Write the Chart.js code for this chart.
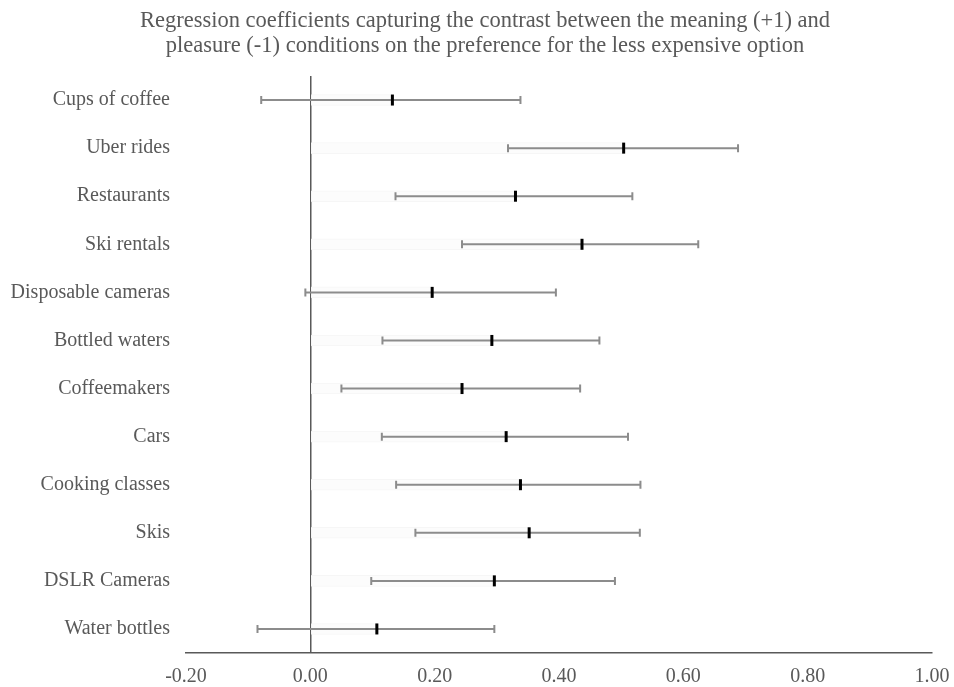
<!DOCTYPE html>
<html>
<head>
<meta charset="utf-8">
<style>
    html, body { margin: 0; padding: 0; background: #fff; }
    #wrap { width: 954px; height: 687px; position: relative; }
</style>
<script src="https://cdn.jsdelivr.net/npm/chart.js@4.4.1/dist/chart.umd.min.js"></script>
</head>
<body>
<div id="wrap"><canvas id="coefChart" width="954" height="687"></canvas></div>
<script>
// Data
const categories = ['Cups of coffee', 'Uber rides', 'Restaurants', 'Ski rentals', 'Disposable cameras',
    'Bottled waters', 'Coffeemakers', 'Cars', 'Cooking classes', 'Skis', 'DSLR Cameras', 'Water bottles'];
const estimates = [0.132, 0.504, 0.330, 0.437, 0.196, 0.292, 0.244, 0.315, 0.338, 0.352, 0.296, 0.107];
const lowerCI  = [-0.079, 0.318, 0.137, 0.244, -0.008, 0.116, 0.050, 0.115, 0.138, 0.169, 0.098, -0.085];
const upperCI  = [0.338, 0.688, 0.518, 0.624, 0.395, 0.465, 0.434, 0.511, 0.531, 0.530, 0.490, 0.296];
const xTicks = [-0.2, 0, 0.2, 0.4, 0.6, 0.8, 1.0];
const titleLines = ['Regression coefficients capturing the contrast between the meaning (+1) and',
    'pleasure (-1) conditions on the preference for the less expensive option'];

const TEXT = '#595959';
const SERIF = "'Liberation Serif', 'Times New Roman', serif";

// Title drawn by hand so it centres where the original does
const titlePlugin = {
    id: 'titleText',
    afterDraw(chart) {
        const ctx = chart.ctx;
        ctx.save();
        ctx.fillStyle = TEXT;
        ctx.font = `22.5px ${SERIF}`;
        ctx.textAlign = 'center';
        ctx.textBaseline = 'middle';
        titleLines.forEach((line, i) => ctx.fillText(line, 485, 21 + i * 25));
        ctx.restore();
    }
};

// Whiskers with caps, and the black tick at the estimate
const whiskerPlugin = {
    id: 'whiskers',
    afterDatasetsDraw(chart) {
        const ctx = chart.ctx;
        const xs = chart.scales.x, ys = chart.scales.y;
        ctx.save();
        categories.forEach((cat, i) => {
            const y = ys.getPixelForValue(i);
            const x1 = xs.getPixelForValue(lowerCI[i]);
            const x2 = xs.getPixelForValue(upperCI[i]);
            const xm = xs.getPixelForValue(estimates[i]);

            ctx.strokeStyle = '#8c8c8c';
            ctx.lineWidth = 2;
            ctx.beginPath();
            ctx.moveTo(x1, y); ctx.lineTo(x2, y);
            ctx.moveTo(x1, y - 4); ctx.lineTo(x1, y + 4);
            ctx.moveTo(x2, y - 4); ctx.lineTo(x2, y + 4);
            ctx.stroke();

            ctx.fillStyle = '#000';
            ctx.fillRect(xm - 1.5, y - 5.5, 3, 11);
        });
        ctx.restore();
    }
};

const ctx = document.getElementById('coefChart').getContext('2d');
new Chart(ctx, {
    type: 'bar',
    data: {
        labels: categories,
        datasets: [{
            data: estimates,
            backgroundColor: '#fcfcfc',
            borderColor: '#f6f6f6',
            borderWidth: 1,
            barThickness: 11
        }]
    },
    options: {
        indexAxis: 'y',
        responsive: false,
        animation: false,
        layout: { padding: { top: 76, left: 8, right: 22, bottom: 0 } },
        plugins: {
            legend: { display: false },
            tooltip: { enabled: false }
        },
        scales: {
            x: {
                min: -0.2,
                max: 1.0,
                afterBuildTicks: (scale) => { scale.ticks = xTicks.map(v => ({ value: v })); },
                afterFit: (scale) => {
                    scale.height = 34;
                    scale.paddingRight = 0;
                    scale.paddingLeft = 0;
                },
                ticks: {
                    color: TEXT,
                    font: { family: SERIF, size: 20 },
                    padding: 12,
                    callback: (v) => Number(v).toFixed(2)
                },
                grid: {
                    drawTicks: false,
                    color: (c) => (c.tick && c.tick.value === 0) ? '#595959' : 'rgba(0,0,0,0)',
                    lineWidth: 1.5
                },
                border: { display: true, color: '#595959', width: 1.5 }
            },
            y: {
                afterFit: (scale) => { scale.width = 178; },
                ticks: {
                    color: TEXT,
                    font: { family: SERIF, size: 20 },
                    padding: 16
                },
                grid: { display: false, drawTicks: false },
                border: { display: false }
            }
        }
    },
    plugins: [titlePlugin, whiskerPlugin]
});
</script>
</body>
</html>
